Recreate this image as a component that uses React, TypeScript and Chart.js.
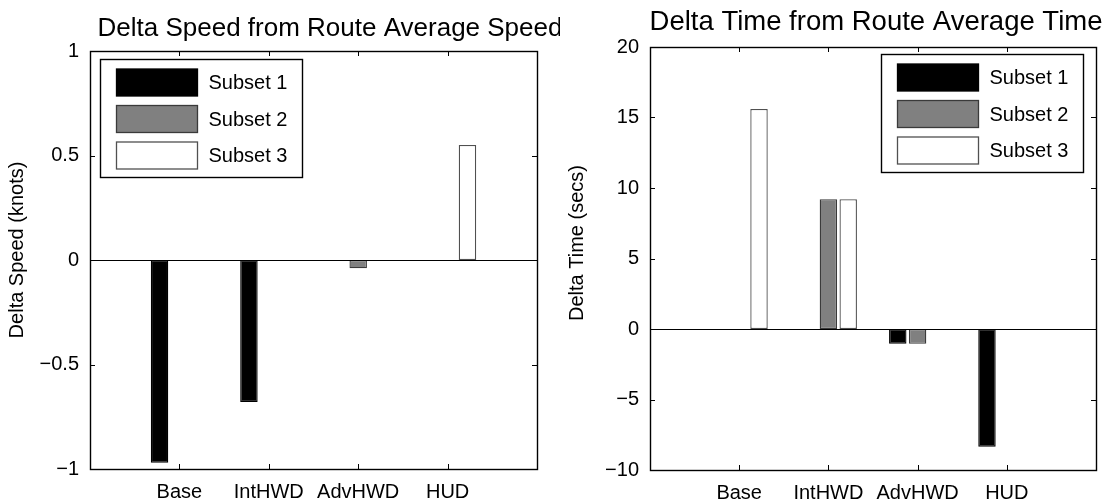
import React, { useEffect, useRef } from "react";
import { Chart, registerables } from "chart.js";

Chart.register(...registerables);

const FONT = '"Liberation Sans", Arial, Helvetica, sans-serif';
Chart.defaults.font.family = FONT;

// ---- data ----
const categories = ["Base", "IntHWD", "AdvHWD", "HUD"];
const seriesNames = ["Subset 1", "Subset 2", "Subset 3"];

const speedSubset1 = [-0.97, -0.68, 0, 0];
const speedSubset2 = [0, 0, -0.04, 0];
const speedSubset3 = [0, 0, 0, 0.55];

const timeSubset1 = [0, 0, -1.05, -8.35];
const timeSubset2 = [0, 9.2, -1.05, 0];
const timeSubset3 = [15.6, 9.2, 0, 0];

const speedTicks = [-1, -0.5, 0, 0.5, 1];
const timeTicks = [-10, -5, 0, 5, 10, 15, 20];

const fills = ["#000000", "#808080", "#ffffff"];
const edges = ["#000000", "#3a3a3a", "#505050"];

type Panel = {
  title: string;
  titleSize: number;
  titleX: number;
  titleY: number;
  yLabel: string;
  series: number[][];
  ticks: number[];
  canvasLeft: number;
  canvasWidth: number;
  area: { left: number; right: number; top: number; bottom: number };
  yLabelX: number;
  yLabelY: number;
  legend: { x: number; y: number };
};

const fmt = (v: number) => (v < 0 ? "\u2212" + String(Math.abs(v)) : String(v));

function makeChart(canvas: HTMLCanvasElement, p: Panel) {
  const H = 504;
  const labels = ["", ...categories, ""];
  const datasets = p.series.map((s, i) => ({
    label: seriesNames[i],
    data: [null, ...s, null],
    backgroundColor: fills[i],
    borderColor: edges[i],
    borderWidth: 1.3,
    borderSkipped: false as const,
    categoryPercentage: 2 / 3,
    barPercentage: 0.88,
  }));

  const decor = {
    id: "decor",
    afterDatasetsDraw(chart: any) {
      const ctx = chart.ctx as CanvasRenderingContext2D;
      const a = chart.chartArea;
      const xs = chart.scales.x;
      const ys = chart.scales.y;
      ctx.save();
      ctx.strokeStyle = "#000";
      ctx.lineWidth = 1;
      // baseline at zero
      const y0 = Math.round(ys.getPixelForValue(0)) + 0.5;
      ctx.beginPath();
      ctx.moveTo(a.left, y0);
      ctx.lineTo(a.right, y0);
      ctx.stroke();
      // frame
      ctx.lineWidth = 1.4;
      ctx.strokeRect(a.left + 0.5, a.top + 0.5, a.right - a.left, a.bottom - a.top);
      // inward ticks
      const TL = 5;
      ctx.lineWidth = 1;
      ctx.beginPath();
      for (let i = 1; i <= categories.length; i++) {
        const x = Math.round(xs.getPixelForValue(i)) + 0.5;
        ctx.moveTo(x, a.bottom);
        ctx.lineTo(x, a.bottom - TL);
        ctx.moveTo(x, a.top);
        ctx.lineTo(x, a.top + TL);
      }
      for (const t of p.ticks) {
        const y = Math.round(ys.getPixelForValue(t)) + 0.5;
        ctx.moveTo(a.left, y);
        ctx.lineTo(a.left + TL, y);
        ctx.moveTo(a.right, y);
        ctx.lineTo(a.right - TL, y);
      }
      ctx.stroke();
      ctx.restore();
    },
    afterDraw(chart: any) {
      const ctx = chart.ctx as CanvasRenderingContext2D;
      ctx.save();
      // title
      ctx.fillStyle = "#000";
      ctx.font = `${p.titleSize}px ${FONT}`;
      ctx.textAlign = "center";
      ctx.textBaseline = "middle";
      ctx.fillText(p.title, p.titleX, p.titleY);
      // y label
      ctx.save();
      ctx.translate(p.yLabelX, p.yLabelY);
      ctx.rotate(-Math.PI / 2);
      ctx.font = `20px ${FONT}`;
      ctx.fillText(p.yLabel, 0, 0);
      ctx.restore();
      // legend
      const LW = 202;
      const LH = 118;
      const lx = p.legend.x + 0.5;
      const ly = p.legend.y + 0.5;
      ctx.fillStyle = "#fff";
      ctx.fillRect(lx, ly, LW, LH);
      ctx.strokeStyle = "#000";
      ctx.lineWidth = 1.4;
      ctx.strokeRect(lx, ly, LW, LH);
      ctx.font = `20px ${FONT}`;
      ctx.textAlign = "left";
      ctx.textBaseline = "middle";
      chart.data.datasets.forEach((ds: any, i: number) => {
        const cy = ly + 23 + i * 36.5;
        ctx.fillStyle = ds.backgroundColor;
        ctx.fillRect(lx + 16, cy - 13.5, 81, 27);
        ctx.strokeStyle = ds.borderColor;
        ctx.lineWidth = 1.3;
        ctx.strokeRect(lx + 16, cy - 13.5, 81, 27);
        ctx.fillStyle = "#000";
        ctx.fillText(ds.label, lx + 108, cy + 1);
      });
      ctx.restore();
    },
  };

  return new Chart(canvas, {
    type: "bar",
    data: { labels, datasets: datasets as any },
    plugins: [decor],
    options: {
      animation: false,
      responsive: false,
      devicePixelRatio: 1,
      layout: {
        padding: {
          left: 0,
          right: p.canvasWidth - p.area.right,
          top: p.area.top,
          bottom: 0,
        },
      },
      plugins: {
        legend: { display: false },
        title: { display: false },
        tooltip: { enabled: false },
      },
      scales: {
        x: {
          type: "category",
          offset: false,
          grid: { display: false, drawTicks: false },
          border: { display: false },
          ticks: {
            autoSkip: false,
            maxRotation: 0,
            minRotation: 0,
            padding: 11,
            color: "#000",
            font: { size: 20, family: FONT },
          },
          afterFit: (s: any) => {
            s.height = H - p.area.bottom;
          },
        },
        y: {
          type: "linear",
          min: p.ticks[0],
          max: p.ticks[p.ticks.length - 1],
          grid: { display: false, drawTicks: false },
          border: { display: false },
          afterBuildTicks: (s: any) => {
            s.ticks = p.ticks.map((v) => ({ value: v }));
          },
          ticks: {
            padding: 11,
            color: "#000",
            font: { size: 20, family: FONT },
            callback: (v: any) => fmt(Number(v)),
          },
          afterFit: (s: any) => {
            s.width = p.area.left;
          },
        },
      },
    },
  });
}

const leftPanel: Panel = {
  title: "Delta Speed from Route Average Speed",
  titleSize: 26,
  titleX: 330,
  titleY: 29,
  yLabel: "Delta Speed (knots)",
  series: [speedSubset1, speedSubset2, speedSubset3],
  ticks: speedTicks,
  canvasLeft: 0,
  canvasWidth: 560,
  area: { left: 90, right: 537, top: 51, bottom: 469 },
  yLabelX: 17,
  yLabelY: 250,
  legend: { x: 100, y: 59 },
};

const rightPanel: Panel = {
  title: "Delta Time from Route Average Time",
  titleSize: 27.5,
  titleX: 316,
  titleY: 22,
  yLabel: "Delta Time (secs)",
  series: [timeSubset1, timeSubset2, timeSubset3],
  ticks: timeTicks,
  canvasLeft: 560,
  canvasWidth: 556,
  area: { left: 90, right: 536, top: 47, bottom: 470 },
  yLabelX: 17,
  yLabelY: 243,
  legend: { x: 321, y: 54 },
};

function ChartPanel({ panel }: { panel: Panel }) {
  const ref = useRef<HTMLCanvasElement | null>(null);
  useEffect(() => {
    if (!ref.current) return;
    const chart = makeChart(ref.current, panel);
    return () => chart.destroy();
  }, [panel]);
  return (
    <canvas
      ref={ref}
      width={panel.canvasWidth}
      height={504}
      style={{
        position: "absolute",
        left: panel.canvasLeft,
        top: 0,
        width: panel.canvasWidth,
        height: 504,
      }}
    />
  );
}

export default function App() {
  return (
    <div
      style={{
        position: "absolute",
        left: 0,
        top: 0,
        width: 1116,
        height: 504,
        background: "#fff",
        overflow: "hidden",
      }}
    >
      <ChartPanel panel={leftPanel} />
      <ChartPanel panel={rightPanel} />
    </div>
  );
}
